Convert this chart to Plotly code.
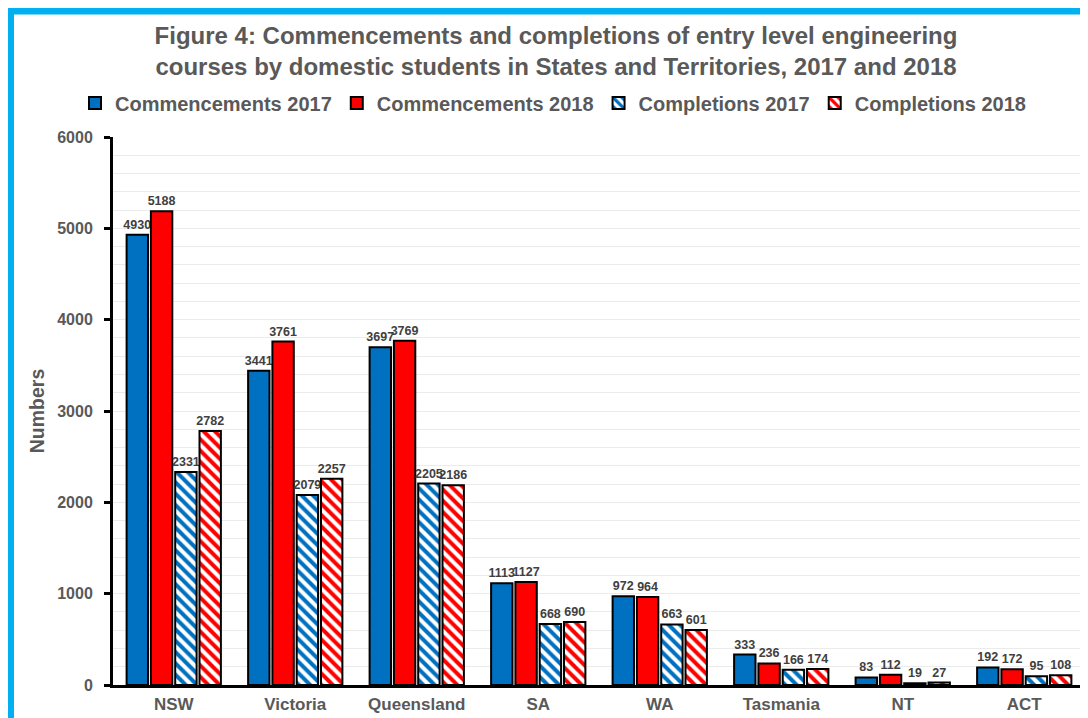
import plotly.graph_objects as go

categories = ["NSW", "Victoria", "Queensland", "SA", "WA", "Tasmania", "NT", "ACT"]
comm_2017 = [4930, 3441, 3697, 1113, 972, 333, 83, 192]
comm_2018 = [5188, 3761, 3769, 1127, 964, 236, 112, 172]
comp_2017 = [2331, 2079, 2205, 668, 663, 166, 19, 95]
comp_2018 = [2782, 2257, 2186, 690, 601, 174, 27, 108]
y_ticks = [0, 1000, 2000, 3000, 4000, 5000, 6000]

BLUE = "#0070C0"
RED = "#FF0000"
GRAY = "#595959"
FONT = "Liberation Sans, Arial, sans-serif"

W, H = 1088, 718
L, R, T, B = 105, 11, 129, 41
PW, PH = W - L - R, H - T - B

series = [
    ("Commencements 2017", comm_2017, BLUE, ""),
    ("Commencements 2018", comm_2018, RED, ""),
    ("Completions 2017", comp_2017, BLUE, "\\"),
    ("Completions 2018", comp_2018, RED, "\\"),
]

fig = go.Figure()
for name, vals, color, shape in series:
    if shape:
        marker = dict(color="white",
                      pattern=dict(shape=shape, fgcolor=color, bgcolor="white",
                                   fgopacity=1, size=8, solidity=0.5,
                                   fillmode="replace"),
                      line=dict(color="black", width=2))
    else:
        marker = dict(color=color, line=dict(color="black", width=2))
    fig.add_trace(go.Bar(
        x=categories, y=vals, name=name, marker=marker,
        text=vals, textposition="outside", constraintext="none", cliponaxis=False,
        textfont=dict(family=FONT, size=12.5, color="#404040", weight="bold"),
    ))

fig.update_layout(
    width=W, height=H,
    margin=dict(l=L, r=R, t=T, b=B, autoexpand=False),
    paper_bgcolor="white", plot_bgcolor="white",
    barmode="group", bargap=0.2, bargroupgap=0.12,
    title=dict(
        text="Figure 4: Commencements and completions of entry level engineering<br>courses by domestic students in States and Territories, 2017 and 2018",
        x=548/W, xanchor="center", xref="container",
        y=(H-36)/H, yanchor="middle", yref="container",
        font=dict(family=FONT, size=24, color=GRAY, weight="bold"),
    ),
    legend=dict(
        orientation="h", xref="container", x=67/W, xanchor="left",
        yref="container", y=(H-95)/H, yanchor="middle",
        font=dict(family=FONT, size=20, color=GRAY, weight="bold"),
        itemwidth=30, tracegroupgap=0, bgcolor="rgba(0,0,0,0)",
    ),
    showlegend=True,
)

fig.update_yaxes(
    range=[0, 6000], tickvals=y_ticks, ticktext=[str(v) for v in y_ticks],
    showline=True, linecolor="black", linewidth=3,
    ticks="outside", ticklen=6, tickwidth=3, tickcolor="black",
    ticklabelstandoff=8,
    tickfont=dict(family=FONT, size=16, color=GRAY, weight="bold"),
    showgrid=True, gridcolor="#EBEBEB", gridwidth=1,
    minor=dict(dtick=200, showgrid=True, gridcolor="#EBEBEB", gridwidth=1),
    zeroline=False,
    title=dict(text="Numbers", standoff=8,
               font=dict(family=FONT, size=19.5, color=GRAY, weight="bold")),
)
fig.update_xaxes(
    showline=True, linecolor="black", linewidth=3, ticks="",
    ticklabelstandoff=2,
    tickfont=dict(family=FONT, size=17, color=GRAY, weight="bold"),
)

# cyan frame around the chart
fig.add_shape(type="rect", xref="paper", yref="paper",
              x0=(2-L)/PW, x1=1.3, y0=-0.4, y1=(PH+T-2.5)/PH,
              line=dict(color="#00B0F0", width=8), fillcolor="rgba(0,0,0,0)",
              layer="above")

fig.write_html("out.html")
